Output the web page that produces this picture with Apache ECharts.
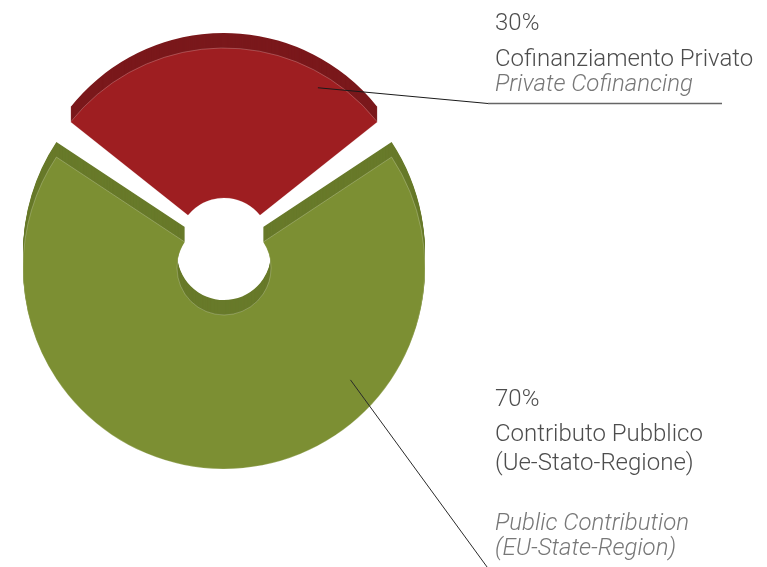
<!DOCTYPE html>
<html>
<head>
<meta charset="utf-8">
<script src="https://cdn.jsdelivr.net/npm/echarts@6/dist/echarts.min.js"></script>
<style>
  html, body { margin: 0; padding: 0; background: #ffffff; }
  #chart { width: 767px; height: 567px; }
</style>
</head>
<body>
<div id="chart"></div>
<script>
// Funding split: private cofinancing vs public contribution
var categories = ['Cofinanziamento Privato', 'Contributo Pubblico'];
var values = [30, 70];
var percentLabels = ['30%', '70%'];
var italianLines = [
  ['Cofinanziamento Privato'],
  ['Contributo Pubblico', '(Ue-Stato-Regione)']
];
var englishLines = [
  ['Private Cofinancing'],
  ['Public Contribution', '(EU-State-Region)']
];

// Styling and geometry of the extruded ring
var faceColors = ['#9e1e21', '#7c8f33'];
var sideColors = ['#7a181b', '#687a2a'];
var centers = [[224, 244], [224, 268]];      // the private slice is pulled out upward
var radii = [[46, 196], [47, 201]];
var depth = 15;
var START = 144;
var PAD = 5;

var series = [];

function sliceSeries(i, dy, color, z) {
  return {
    type: 'pie',
    center: [centers[i][0], centers[i][1] - dy],
    radius: radii[i],
    startAngle: START,
    padAngle: PAD,
    silent: true,
    animation: false,
    z: z,
    label: { show: false },
    labelLine: { show: false },
    emphasis: { disabled: true },
    itemStyle: dy === 0 ? { borderColor: 'rgba(255,255,255,0.28)', borderWidth: 0.8 } : {},
    data: values.map(function (v, j) {
      return {
        name: categories[j],
        value: v,
        itemStyle: j === i ? { color: color } : { color: 'transparent', borderWidth: 0 }
      };
    })
  };
}

// side walls: stacked copies of each slice, shifted upward
for (var i = 0; i < values.length; i++) {
  for (var k = depth; k >= 1; k--) {
    series.push(sliceSeries(i, k, sideColors[i], 1));
  }
}
// top faces
for (var i2 = 0; i2 < values.length; i2++) {
  series.push(sliceSeries(i2, 0, faceColors[i2], 2));
}

// anchor point of a leader line inside a slice
function anchor(i, frac, angleDeg) {
  var r = radii[i][1] * frac;
  var a = angleDeg * Math.PI / 180;
  return [centers[i][0] + r * Math.cos(a), centers[i][1] - r * Math.sin(a)];
}

var FS = 24;
var textFont = 'Roboto, "Helvetica Neue", "Liberation Sans", sans-serif';
function textEl(str, x, baseline, italic, color) {
  return {
    type: 'text',
    x: x,
    y: baseline - FS * 0.33,
    silent: true,
    style: {
      text: str,
      fill: color,
      fontSize: FS,
      fontWeight: 300,
      fontStyle: italic ? 'italic' : 'normal',
      fontFamily: textFont,
      verticalAlign: 'middle',
      align: 'left'
    }
  };
}

var labelX = 495;
var topBaselines = [32, 68, 93];
var botBaselines = [408, 443, 472, 532, 557];
var graphics = [];

graphics.push(textEl(percentLabels[0], labelX, topBaselines[0], false, '#4d4d4d'));
graphics.push(textEl(italianLines[0][0], labelX, topBaselines[1], false, '#4d4d4d'));
graphics.push(textEl(englishLines[0][0], labelX, topBaselines[2], true, '#777777'));

graphics.push(textEl(percentLabels[1], labelX, botBaselines[0], false, '#4d4d4d'));
graphics.push(textEl(italianLines[1][0], labelX, botBaselines[1], false, '#4d4d4d'));
graphics.push(textEl(italianLines[1][1], labelX, botBaselines[2], false, '#4d4d4d'));
graphics.push(textEl(englishLines[1][0], labelX, botBaselines[3], true, '#777777'));
graphics.push(textEl(englishLines[1][1], labelX, botBaselines[4], true, '#777777'));

var a0 = anchor(0, 0.93, 59);
var a1 = anchor(1, 0.84, -41.5);
graphics.push({
  type: 'polyline', silent: true, z: 10,
  shape: { points: [a0, [488, 103.5]] },
  style: { stroke: '#1a1a1a', lineWidth: 1, fill: null }
});
graphics.push({
  type: 'line', silent: true, z: 10,
  shape: { x1: 488, y1: 103.5, x2: 722, y2: 103.5 },
  style: { stroke: '#666666', lineWidth: 1.5 }
});
graphics.push({
  type: 'polyline', silent: true, z: 10,
  shape: { points: [a1, [490, 571]] },
  style: { stroke: '#2a2a2a', lineWidth: 1, fill: null }
});

var chart = echarts.init(document.getElementById('chart'), null, { renderer: 'canvas' });
chart.setOption({
  backgroundColor: '#ffffff',
  animation: false,
  series: series,
  graphic: { elements: graphics }
});
</script>
</body>
</html>
